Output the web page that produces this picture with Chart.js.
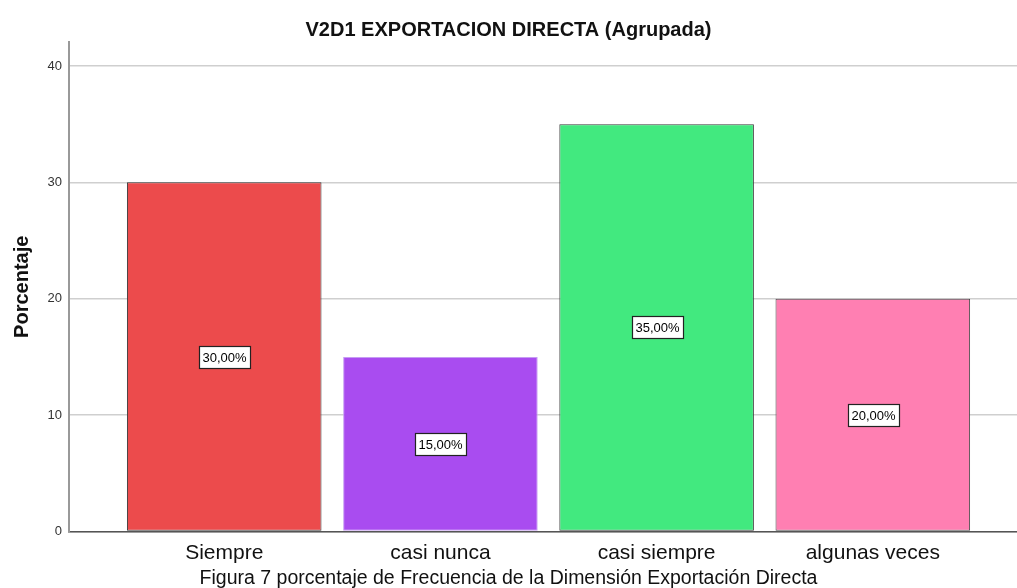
<!DOCTYPE html>
<html>
<head>
<meta charset="utf-8">
<script src="https://cdn.jsdelivr.net/npm/chart.js@4.4.1/dist/chart.umd.min.js"></script>
<style>
  html, body { margin: 0; padding: 0; background: #fff; }
</style>
</head>
<body>
<canvas id="chart" width="1017" height="588"></canvas>
<script>
// data
const categories = ['Siempre', 'casi nunca', 'casi siempre', 'algunas veces'];
const percentages = [30, 15, 35, 20];
const yTicks = [0, 10, 20, 30, 40];
const barColors = ['#ec4b4c', '#a94cf0', '#42e97f', '#ff7fb2'];
const barBorders = ['#3a3a3a', '#c69cf3', '#3a3a3a', '#4a4a4a'];

Chart.defaults.font.family = '"Liberation Sans", Arial, sans-serif';
Chart.defaults.color = '#222';

// white boxes with the percentage in the middle of each bar
const valueBoxes = {
  id: 'valueBoxes',
  afterDatasetsDraw(chart) {
    const ctx = chart.ctx;
    const meta = chart.getDatasetMeta(0);
    ctx.save();
    ctx.font = '13px "Liberation Sans", Arial, sans-serif';
    ctx.textAlign = 'center';
    ctx.textBaseline = 'middle';
    meta.data.forEach((bar, i) => {
      const txt = percentages[i].toFixed(2).replace('.', ',') + '%';
      const w = Math.round(ctx.measureText(txt).width + 7);
      const h = 22;
      const cx = Math.round(bar.x);
      const cy = Math.round((bar.y + bar.base) / 2);
      const x0 = Math.round(cx - w / 2), y0 = Math.round(cy - h / 2);
      ctx.fillStyle = '#fff';
      ctx.fillRect(x0, y0, w, h);
      ctx.strokeStyle = '#222';
      ctx.lineWidth = 1.2;
      ctx.strokeRect(x0 + 0.5, y0 + 0.5, w, h);
      ctx.fillStyle = '#000';
      ctx.fillText(txt, cx + 0.5, cy + 1.5);
    });
    ctx.restore();
  }
};

new Chart(document.getElementById('chart'), {
  type: 'bar',
  data: {
    datasets: [{
      data: categories.map((c, i) => ({ x: i, y: percentages[i] })),
      backgroundColor: barColors,
      borderColor: barBorders,
      borderWidth: 1,
      borderSkipped: false,
      categoryPercentage: 1,
      barPercentage: 0.9
    }]
  },
  options: {
    responsive: false,
    animation: false,
    layout: { padding: 0 },
    plugins: {
      legend: { display: false },
      tooltip: { enabled: false },
      title: {
        display: true,
        text: 'V2D1 EXPORTACION DIRECTA (Agrupada)',
        color: '#111',
        font: { size: 20, weight: 'bold' },
        padding: { top: 18, bottom: 0 }
      },
      subtitle: {
        display: true,
        position: 'bottom',
        text: 'Figura 7 porcentaje de Frecuencia de la Dimensión Exportación Directa',
        color: '#111',
        font: { size: 19.5, lineHeight: 1 },
        padding: 0
      }
    },
    scales: {
      x: {
        type: 'linear',
        offset: false,
        min: -0.718,
        max: 3.667,
        afterBuildTicks: s => { s.ticks = categories.map((c, i) => ({ value: i })); },
        afterFit: s => { s.height = 37; },
        grid: { display: false, drawTicks: false, offset: false },
        border: { color: '#555', width: 1.5 },
        ticks: {
          autoSkip: false,
          maxRotation: 0,
          padding: 9,
          color: '#111',
          font: { size: 21 },
          callback: v => categories[v]
        }
      },
      y: {
        min: 0,
        max: 42.06,
        afterBuildTicks: s => { s.ticks = yTicks.map(v => ({ value: v })); },
        afterFit: s => { s.width = 69; },
        grid: { color: '#cfcfcf', lineWidth: 1.5, drawTicks: false },
        border: { color: '#999', width: 2 },
        ticks: { padding: 7, color: '#333', font: { size: 13 } },
        title: {
          display: true,
          text: 'Porcentaje',
          color: '#111',
          font: { size: 20, weight: 'bold' },
          padding: { top: 10, bottom: 0 }
        }
      }
    }
  },
  plugins: [valueBoxes]
});
</script>
</body>
</html>
